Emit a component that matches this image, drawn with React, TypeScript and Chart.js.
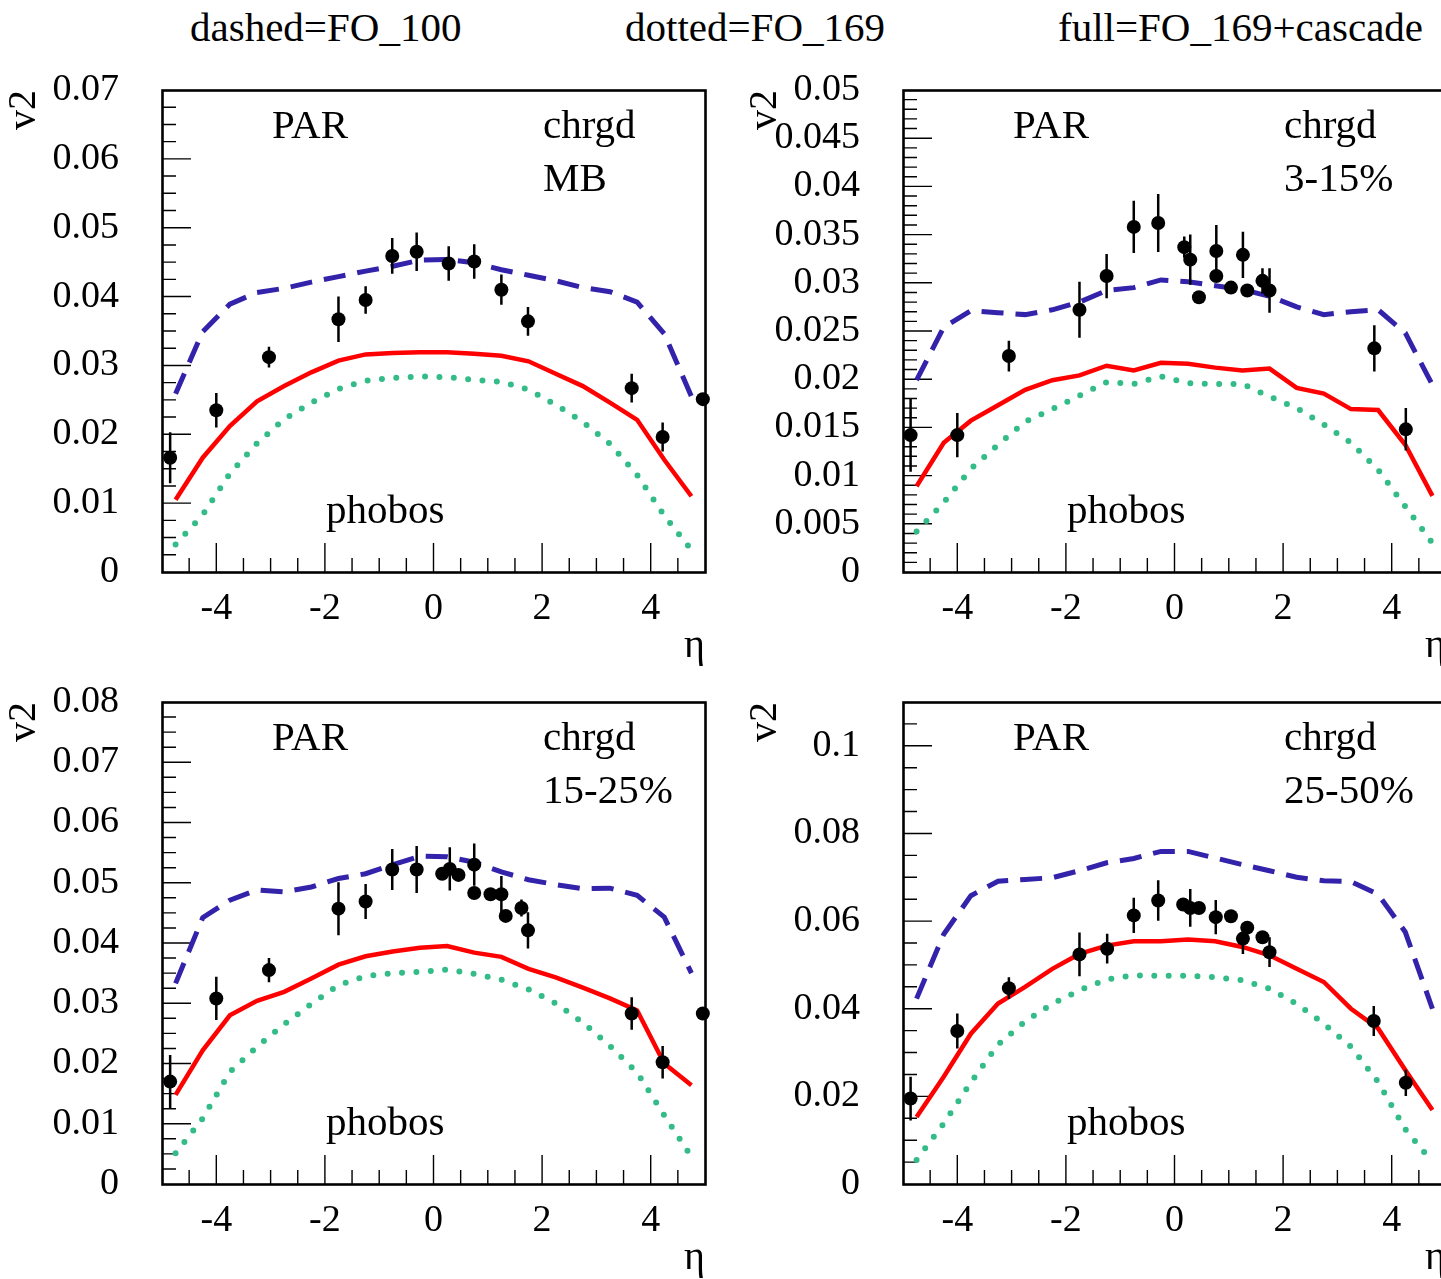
import React, { useEffect, useRef } from "react";
import { Chart, registerables } from "chart.js";

Chart.register(...registerables);

const FONT = '"Liberation Serif", "Times New Roman", Times, serif';

// ---------- model curves: common eta grid ----------
const ETA_MODEL = [-4.75, -4.25, -3.75, -3.25, -2.75, -2.25, -1.75, -1.25, -0.75, -0.25, 0.25, 0.75, 1.25, 1.75, 2.25, 2.75, 3.25, 3.75, 4.25, 4.75];

// Panel 1: MB
const DASH_MB = [0.0259, 0.0349, 0.0389, 0.0406, 0.0412, 0.0421, 0.0429, 0.0437, 0.0444, 0.0453, 0.0454, 0.0449, 0.0439, 0.0431, 0.0423, 0.0413, 0.0407, 0.0392, 0.0346, 0.0255];
const FULL_MB = [0.0105, 0.0166, 0.0212, 0.0248, 0.0270, 0.0290, 0.0307, 0.0316, 0.0318, 0.0319, 0.0319, 0.0317, 0.0314, 0.0306, 0.0288, 0.0270, 0.0246, 0.0221, 0.0163, 0.0110];
const DOT_MB = [0.0040, 0.0083, 0.0143, 0.0187, 0.0222, 0.0246, 0.0266, 0.0278, 0.0282, 0.0284, 0.0283, 0.0279, 0.0276, 0.0265, 0.0243, 0.0218, 0.0186, 0.0141, 0.0082, 0.0032];
const ETA_MB = [-4.85, -4.0, -3.03, -1.75, -1.25, -0.76, -0.31, 0.28, 0.75, 1.25, 1.74, 3.65, 4.22, 4.96];
const V2_MB = [0.0166, 0.0235, 0.0312, 0.0367, 0.0395, 0.0459, 0.0465, 0.0448, 0.0451, 0.0410, 0.0364, 0.0267, 0.0196, 0.0251];
const ERR_MB = [0.0037, 0.0025, 0.0015, 0.0033, 0.0020, 0.0026, 0.0028, 0.0025, 0.0025, 0.0022, 0.0021, 0.0021, 0.0021, 0];

// Panel 2: 3-15%
const DASH_3_15 = [0.0199, 0.0254, 0.0271, 0.0269, 0.0267, 0.0272, 0.0280, 0.0292, 0.0295, 0.0303, 0.0301, 0.0297, 0.0293, 0.0286, 0.0275, 0.0267, 0.0270, 0.0272, 0.0248, 0.0194];
const FULL_3_15 = [0.0089, 0.0134, 0.0157, 0.0173, 0.0189, 0.0199, 0.0204, 0.0214, 0.0209, 0.0217, 0.0216, 0.0212, 0.0209, 0.0211, 0.0191, 0.0185, 0.0169, 0.0168, 0.0132, 0.0079];
const DOT_3_15 = [0.0042, 0.0072, 0.0107, 0.0132, 0.0156, 0.0169, 0.0183, 0.0197, 0.0195, 0.0203, 0.0196, 0.0195, 0.0195, 0.0182, 0.0170, 0.0153, 0.0134, 0.0106, 0.0068, 0.0030];
const ETA_3_15 = [-4.86, -4.0, -3.05, -1.75, -1.25, -0.75, -0.3, 0.18, 0.29, 0.45, 0.77, 0.77, 1.04, 1.26, 1.34, 1.62, 1.75, 3.68, 4.26];
const V2_3_15 = [0.0142, 0.0142, 0.0224, 0.0272, 0.0307, 0.0358, 0.0362, 0.0337, 0.0324, 0.0285, 0.0333, 0.0307, 0.0295, 0.0329, 0.0292, 0.0302, 0.0292, 0.0232, 0.0148];
const ERR_3_15 = [0.0038, 0.0023, 0.0016, 0.0029, 0.0023, 0.0027, 0.0030, 0.0011, 0.0026, 0.0004, 0.0027, 0.0005, 0.0004, 0.0024, 0.0005, 0.0013, 0.0023, 0.0024, 0.0022];

// Panel 3: 15-25%
const DASH_15_25 = [0.0333, 0.0442, 0.0471, 0.0488, 0.0485, 0.0493, 0.0507, 0.0515, 0.0530, 0.0544, 0.0543, 0.0534, 0.0518, 0.0505, 0.0497, 0.0490, 0.0491, 0.0479, 0.0443, 0.0350];
const FULL_15_25 = [0.0148, 0.0222, 0.0280, 0.0304, 0.0319, 0.0341, 0.0364, 0.0378, 0.0386, 0.0392, 0.0395, 0.0384, 0.0377, 0.0357, 0.0343, 0.0326, 0.0308, 0.0288, 0.0200, 0.0164];
const DOT_15_25 = [0.0051, 0.0109, 0.0186, 0.0228, 0.0265, 0.0299, 0.0330, 0.0345, 0.0350, 0.0352, 0.0356, 0.0349, 0.0339, 0.0323, 0.0300, 0.0268, 0.0229, 0.0185, 0.0114, 0.0045];
const ETA_15_25 = [-4.85, -4.0, -3.03, -1.75, -1.25, -0.76, -0.31, 0.16, 0.3, 0.46, 0.75, 0.75, 1.05, 1.25, 1.33, 1.62, 1.74, 3.65, 4.22, 4.96];
const V2_15_25 = [0.0170, 0.0308, 0.0355, 0.0457, 0.0469, 0.0522, 0.0522, 0.0515, 0.0523, 0.0513, 0.0530, 0.0483, 0.0481, 0.0481, 0.0445, 0.0458, 0.0421, 0.0283, 0.0202, 0.0283];
const ERR_15_25 = [0.0044, 0.0036, 0.0020, 0.0044, 0.0029, 0.0034, 0.0039, 0.0005, 0.0036, 0.0005, 0.0035, 0.0005, 0.0005, 0.0030, 0.0005, 0.0014, 0.0030, 0.0027, 0.0027, 0];

// Panel 4: 25-50%
const DASH_25_50 = [0.0423, 0.0570, 0.0658, 0.0691, 0.0695, 0.0699, 0.0715, 0.0733, 0.0743, 0.0759, 0.0759, 0.0744, 0.0729, 0.0715, 0.0700, 0.0692, 0.0690, 0.0661, 0.0575, 0.0400];
const FULL_25_50 = [0.0153, 0.0245, 0.0343, 0.0412, 0.0450, 0.0491, 0.0525, 0.0544, 0.0554, 0.0554, 0.0558, 0.0554, 0.0541, 0.0522, 0.0491, 0.0461, 0.0400, 0.0355, 0.0260, 0.0169];
const DOT_25_50 = [0.0055, 0.0138, 0.0232, 0.0318, 0.0371, 0.0411, 0.0442, 0.0467, 0.0476, 0.0475, 0.0475, 0.0472, 0.0465, 0.0446, 0.0411, 0.0366, 0.0313, 0.0233, 0.0125, 0.0050];
const ETA_25_50 = [-4.86, -4.0, -3.05, -1.75, -1.24, -0.75, -0.3, 0.16, 0.29, 0.45, 0.76, 1.04, 1.26, 1.34, 1.62, 1.75, 3.67, 4.26];
const V2_25_50 = [0.0195, 0.0349, 0.0447, 0.0524, 0.0537, 0.0613, 0.0647, 0.0638, 0.0630, 0.0630, 0.0609, 0.0611, 0.0560, 0.0585, 0.0563, 0.0529, 0.0372, 0.0231];
const ERR_25_50 = [0.0050, 0.0040, 0.0025, 0.0050, 0.0034, 0.0040, 0.0046, 0.0005, 0.0043, 0.0005, 0.0039, 0.0005, 0.0035, 0.0005, 0.0010, 0.0034, 0.0034, 0.0030];

// ---------- axes ----------
const X_TICKS = [-4, -2, 0, 2, 4];
const X_TICK_LABELS = ["-4", "-2", "0", "2", "4"];

const Y_TICKS_MB = [0, 0.01, 0.02, 0.03, 0.04, 0.05, 0.06, 0.07];
const Y_LABELS_MB = ["0", "0.01", "0.02", "0.03", "0.04", "0.05", "0.06", "0.07"];
const Y_TICKS_3_15 = [0, 0.005, 0.01, 0.015, 0.02, 0.025, 0.03, 0.035, 0.04, 0.045, 0.05];
const Y_LABELS_3_15 = ["0", "0.005", "0.01", "0.015", "0.02", "0.025", "0.03", "0.035", "0.04", "0.045", "0.05"];
const Y_TICKS_15_25 = [0, 0.01, 0.02, 0.03, 0.04, 0.05, 0.06, 0.07, 0.08];
const Y_LABELS_15_25 = ["0", "0.01", "0.02", "0.03", "0.04", "0.05", "0.06", "0.07", "0.08"];
const Y_TICKS_25_50 = [0, 0.02, 0.04, 0.06, 0.08, 0.1];
const Y_LABELS_25_50 = ["0", "0.02", "0.04", "0.06", "0.08", "0.1"];

const HEADER_TEXTS = ["dashed=FO_100", "dotted=FO_169", "full=FO_169+cascade"];
const CENTRALITY = ["MB", "3-15%", "15-25%", "25-50%"];

type PanelDef = {
  dash: number[]; full: number[]; dot: number[];
  eta: number[]; v2: number[]; err: number[];
  yMax: number; yTicks: number[]; yLabels: string[]; yMinor: number;
  cent: string; left: number; top: number;
};

const PANELS: PanelDef[] = [
  { dash: DASH_MB, full: FULL_MB, dot: DOT_MB, eta: ETA_MB, v2: V2_MB, err: ERR_MB, yMax: 0.07, yTicks: Y_TICKS_MB, yLabels: Y_LABELS_MB, yMinor: 0.0025, cent: CENTRALITY[0], left: 0, top: 20 },
  { dash: DASH_3_15, full: FULL_3_15, dot: DOT_3_15, eta: ETA_3_15, v2: V2_3_15, err: ERR_3_15, yMax: 0.05, yTicks: Y_TICKS_3_15, yLabels: Y_LABELS_3_15, yMinor: 0.001, cent: CENTRALITY[1], left: 741, top: 20 },
  { dash: DASH_15_25, full: FULL_15_25, dot: DOT_15_25, eta: ETA_15_25, v2: V2_15_25, err: ERR_15_25, yMax: 0.08, yTicks: Y_TICKS_15_25, yLabels: Y_LABELS_15_25, yMinor: 0.0025, cent: CENTRALITY[2], left: 0, top: 632 },
  { dash: DASH_25_50, full: FULL_25_50, dot: DOT_25_50, eta: ETA_25_50, v2: V2_25_50, err: ERR_25_50, yMax: 0.11, yTicks: Y_TICKS_25_50, yLabels: Y_LABELS_25_50, yMinor: 0.005, cent: CENTRALITY[3], left: 741, top: 632 },
];

const CANVAS_W = 725;
const CANVAS_H = 660;
const Y_AXIS_W = 162;
const X_AXIS_H = 98;
const PAD = { top: 70, right: 20, bottom: 10, left: 0 };

function Panel({ def }: { def: PanelDef }) {
  const ref = useRef<HTMLCanvasElement | null>(null);

  useEffect(() => {
    if (!ref.current) return;

    const frameTicks = {
      id: "frameTicks",
      beforeDatasetsDraw(chart: any) {
        const { ctx, chartArea: a, scales } = chart;
        const xs = scales.x;
        const ys = scales.y;
        ctx.save();
        ctx.strokeStyle = "#000";
        ctx.lineWidth = 1.4;
        ctx.beginPath();
        for (let k = -9; k <= 9; k++) {
          const v = k * 0.5;
          const px = xs.getPixelForValue(v);
          const major = X_TICKS.includes(v);
          const len = major ? 29 : 14;
          ctx.moveTo(px, a.bottom);
          ctx.lineTo(px, a.bottom - len);
        }
        const n = Math.round(def.yMax / def.yMinor);
        const majorStep = def.yTicks[1] - def.yTicks[0];
        for (let k = 1; k < n; k++) {
          const v = k * def.yMinor;
          const py = ys.getPixelForValue(v);
          const r = v / majorStep;
          const major = Math.abs(r - Math.round(r)) < 1e-6;
          const len = major ? 29 : 14;
          ctx.moveTo(a.left, py);
          ctx.lineTo(a.left + len, py);
        }
        ctx.stroke();
        ctx.lineWidth = 2.6;
        ctx.strokeRect(a.left + 0.5, a.top + 0.5, a.right - a.left, a.bottom - a.top);
        ctx.restore();
      },
    };

    const annot = {
      id: "annot",
      afterDraw(chart: any) {
        const { ctx, chartArea: a } = chart;
        ctx.save();
        ctx.fillStyle = "#000";
        ctx.font = `41px ${FONT}`;
        ctx.textAlign = "left";
        ctx.textBaseline = "alphabetic";
        ctx.fillText("PAR", a.left + 110, a.top + 48);
        ctx.fillText("chrgd", a.left + 381, a.top + 48);
        ctx.fillText(def.cent, a.left + 381, a.top + 101);
        ctx.fillText("phobos", a.left + 164, a.top + 433);
        ctx.restore();
      },
    };

    const pts = def.eta.map((x, i) => ({ x, y: def.v2[i] }));
    const errs: { x: number; y: number | null }[] = [];
    def.eta.forEach((x, i) => {
      errs.push({ x, y: def.v2[i] - def.err[i] });
      errs.push({ x, y: def.v2[i] + def.err[i] });
      errs.push({ x, y: null });
    });
    const curve = (arr: number[]) => ETA_MODEL.map((x, i) => ({ x, y: arr[i] }));

    const chart = new Chart(ref.current, {
      type: "scatter",
      data: {
        datasets: [
          {
            label: "phobos",
            data: pts,
            showLine: false,
            pointRadius: 7,
            pointBackgroundColor: "#000",
            pointBorderWidth: 0,
            clip: false as any,
            order: 0,
          },
          {
            label: "err",
            data: errs as any,
            showLine: true,
            spanGaps: false,
            pointRadius: 0,
            borderColor: "#000",
            borderWidth: 2.5,
            clip: false as any,
            order: 1,
          },
          {
            label: "full=FO_169+cascade",
            data: curve(def.full),
            showLine: true,
            pointRadius: 0,
            borderColor: "#ff0000",
            borderWidth: 4.5,
            order: 2,
          },
          {
            label: "dashed=FO_100",
            data: curve(def.dash),
            showLine: true,
            pointRadius: 0,
            borderColor: "#3322aa",
            borderWidth: 5,
            borderDash: [22, 12],
            order: 3,
          },
          {
            label: "dotted=FO_169",
            data: curve(def.dot),
            showLine: true,
            pointRadius: 0,
            borderColor: "#33bb88",
            borderWidth: 6,
            borderDash: [0, 14.4],
            borderCapStyle: "round",
            order: 4,
          },
        ],
      },
      options: {
        animation: false,
        responsive: false,
        devicePixelRatio: 1,
        events: [],
        layout: { padding: PAD },
        plugins: { legend: { display: false }, tooltip: { enabled: false } },
        scales: {
          x: {
            type: "linear",
            position: "bottom",
            min: -5,
            max: 5,
            afterBuildTicks: (s: any) => {
              s.ticks = X_TICKS.map((v) => ({ value: v }));
            },
            afterFit: (s: any) => {
              s.height = X_AXIS_H;
            },
            grid: { display: false, drawTicks: false },
            border: { display: false },
            ticks: {
              padding: 14,
              color: "#000",
              autoSkip: false,
              maxRotation: 0,
              font: { family: FONT, size: 38 },
              callback: (_v: any, i: number) => X_TICK_LABELS[i],
            },
            title: { display: true, text: "η", align: "end", color: "#000", padding: 0, font: { family: FONT, size: 40 } },
          },
          y: {
            type: "linear",
            position: "left",
            min: 0,
            max: def.yMax,
            afterBuildTicks: (s: any) => {
              s.ticks = def.yTicks.map((v) => ({ value: v }));
            },
            afterFit: (s: any) => {
              s.width = Y_AXIS_W;
            },
            grid: { display: false, drawTicks: false },
            border: { display: false },
            ticks: {
              padding: 43,
              color: "#000",
              autoSkip: false,
              font: { family: FONT, size: 38 },
              callback: (_v: any, i: number) => def.yLabels[i],
            },
            title: { display: true, text: "v2", align: "end", color: "#000", padding: 0, font: { family: FONT, size: 40 } },
          },
        },
      } as any,
      plugins: [frameTicks, annot],
    });
    return () => chart.destroy();
  }, [def]);

  return (
    <canvas
      ref={ref}
      width={CANVAS_W}
      height={CANVAS_H}
      style={{ position: "absolute", left: def.left, top: def.top, width: CANVAS_W, height: CANVAS_H }}
    />
  );
}

const HEADER_X = [190, 625, 1058];

export default function App() {
  return (
    <div
      style={{
        position: "fixed",
        left: 0,
        top: 0,
        width: 1441,
        height: 1279,
        overflow: "hidden",
        background: "#fff",
      }}
    >
      {HEADER_TEXTS.map((t, i) => (
        <div
          key={t}
          style={{
            position: "absolute",
            left: HEADER_X[i],
            top: 27,
            lineHeight: 0,
            fontSize: 41,
            fontFamily: FONT,
            color: "#000",
            whiteSpace: "nowrap",
          }}
        >
          {t}
        </div>
      ))}
      {PANELS.map((p, i) => (
        <Panel key={i} def={p} />
      ))}
    </div>
  );
}
